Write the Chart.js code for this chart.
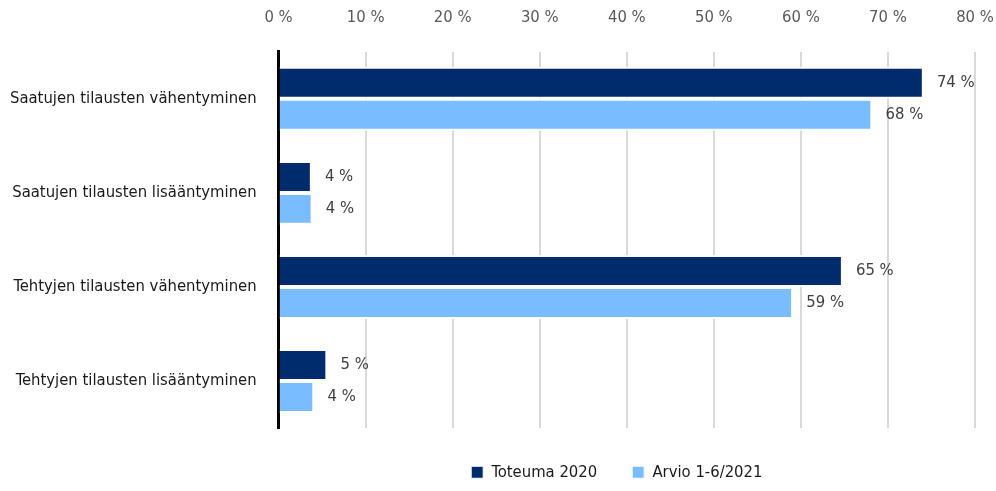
<!DOCTYPE html>
<html>
<head>
<meta charset="utf-8">
<script src="https://cdn.jsdelivr.net/npm/chart.js@4"></script>
<style>
  html, body { margin: 0; padding: 0; background: #fff; }
  #wrap { width: 996px; height: 491px; }
</style>
</head>
<body>
<div id="wrap"><canvas id="myChart"></canvas></div>
<script>
const categories = [
  'Saatujen tilausten vähentyminen',
  'Saatujen tilausten lisääntyminen',
  'Tehtyjen tilausten vähentyminen',
  'Tehtyjen tilausten lisääntyminen'
];
const toteuma2020 = [73.9, 3.6, 64.6, 5.4];
const arvio2021 = [68.0, 3.7, 58.9, 3.9];
const seriesNames = ['Toteuma 2020', 'Arvio 1-6/2021'];
const xTicks = [0, 10, 20, 30, 40, 50, 60, 70, 80];

const FONT = "'DejaVu Sans Condensed', sans-serif";
const FS = 16.5;

// value labels at the bar ends
const valueLabels = {
  id: 'valueLabels',
  afterDatasetsDraw(chart) {
    const c = chart.ctx;
    c.save();
    c.font = FS + 'px ' + FONT;
    c.fillStyle = '#404040';
    c.textBaseline = 'middle';
    c.textAlign = 'left';
    chart.data.datasets.forEach((ds, i) => {
      chart.getDatasetMeta(i).data.forEach((bar, j) => {
        c.fillText(Math.round(ds.data[j]) + ' %', bar.x + 15, bar.y);
      });
    });
    c.restore();
  }
};

// legend: fixed height under the plot, nudged a bit left
const legendFix = {
  id: 'legendFix',
  beforeLayout(chart) {
    const lg = chart.legend;
    if (lg && !lg._fixed) {
      const fit = lg.fit;
      lg.fit = function () { fit.call(this); this.height = 63; };
      lg._fixed = true;
    }
  },
  afterLayout(chart) {
    chart.legend.left -= 10;
    chart.legend.right -= 10;
    chart.legend.top += 1;
    chart.legend.bottom += 1;
  }
};

const ctx = document.getElementById('myChart');
new Chart(ctx, {
  type: 'bar',
  data: {
    labels: categories,
    datasets: [{
      label: seriesNames[0],
      data: toteuma2020,
      backgroundColor: '#002b6c',
      borderColor: '#ffffff',
      borderWidth: {top: 2, bottom: 2, left: 0, right: 0},
      borderSkipped: false
    }, {
      label: seriesNames[1],
      data: arvio2021,
      backgroundColor: '#79bcff',
      borderColor: '#ffffff',
      borderWidth: {top: 2, bottom: 2, left: 0, right: 0},
      borderSkipped: false
    }]
  },
  options: {
    indexAxis: 'y',
    responsive: true,
    maintainAspectRatio: false,
    animation: false,
    layout: { padding: { top: -16, right: 0, left: -12, bottom: 0 } },
    datasets: {
      bar: { categoryPercentage: 0.68, barPercentage: 1 }
    },
    scales: {
      x: {
        position: 'top',
        min: 0,
        max: 80,
        afterBuildTicks: (axis) => { axis.ticks = xTicks.map(v => ({ value: v })); },
        afterFit: (axis) => { axis.paddingRight = 21; },
        ticks: {
          font: { family: FONT, size: FS },
          color: '#595959',
          padding: 24,
          callback: (v) => v + ' %'
        },
        grid: { color: '#d9d9d9', lineWidth: 2, drawTicks: false },
        border: { display: false }
      },
      y: {
        z: 1,
        ticks: {
          font: { family: FONT, size: FS },
          color: '#1a1a1a',
          padding: 22
        },
        grid: { display: false, drawTicks: false },
        border: { display: true, color: '#000000', width: 3 }
      }
    },
    plugins: {
      legend: {
        position: 'bottom',
        fullSize: false,
        labels: {
          font: { family: FONT, size: FS },
          color: '#1a1a1a',
          boxWidth: 12,
          boxHeight: 12,
          padding: 35
        }
      },
      tooltip: { enabled: false }
    }
  },
  plugins: [valueLabels, legendFix]
});
</script>
</body>
</html>
